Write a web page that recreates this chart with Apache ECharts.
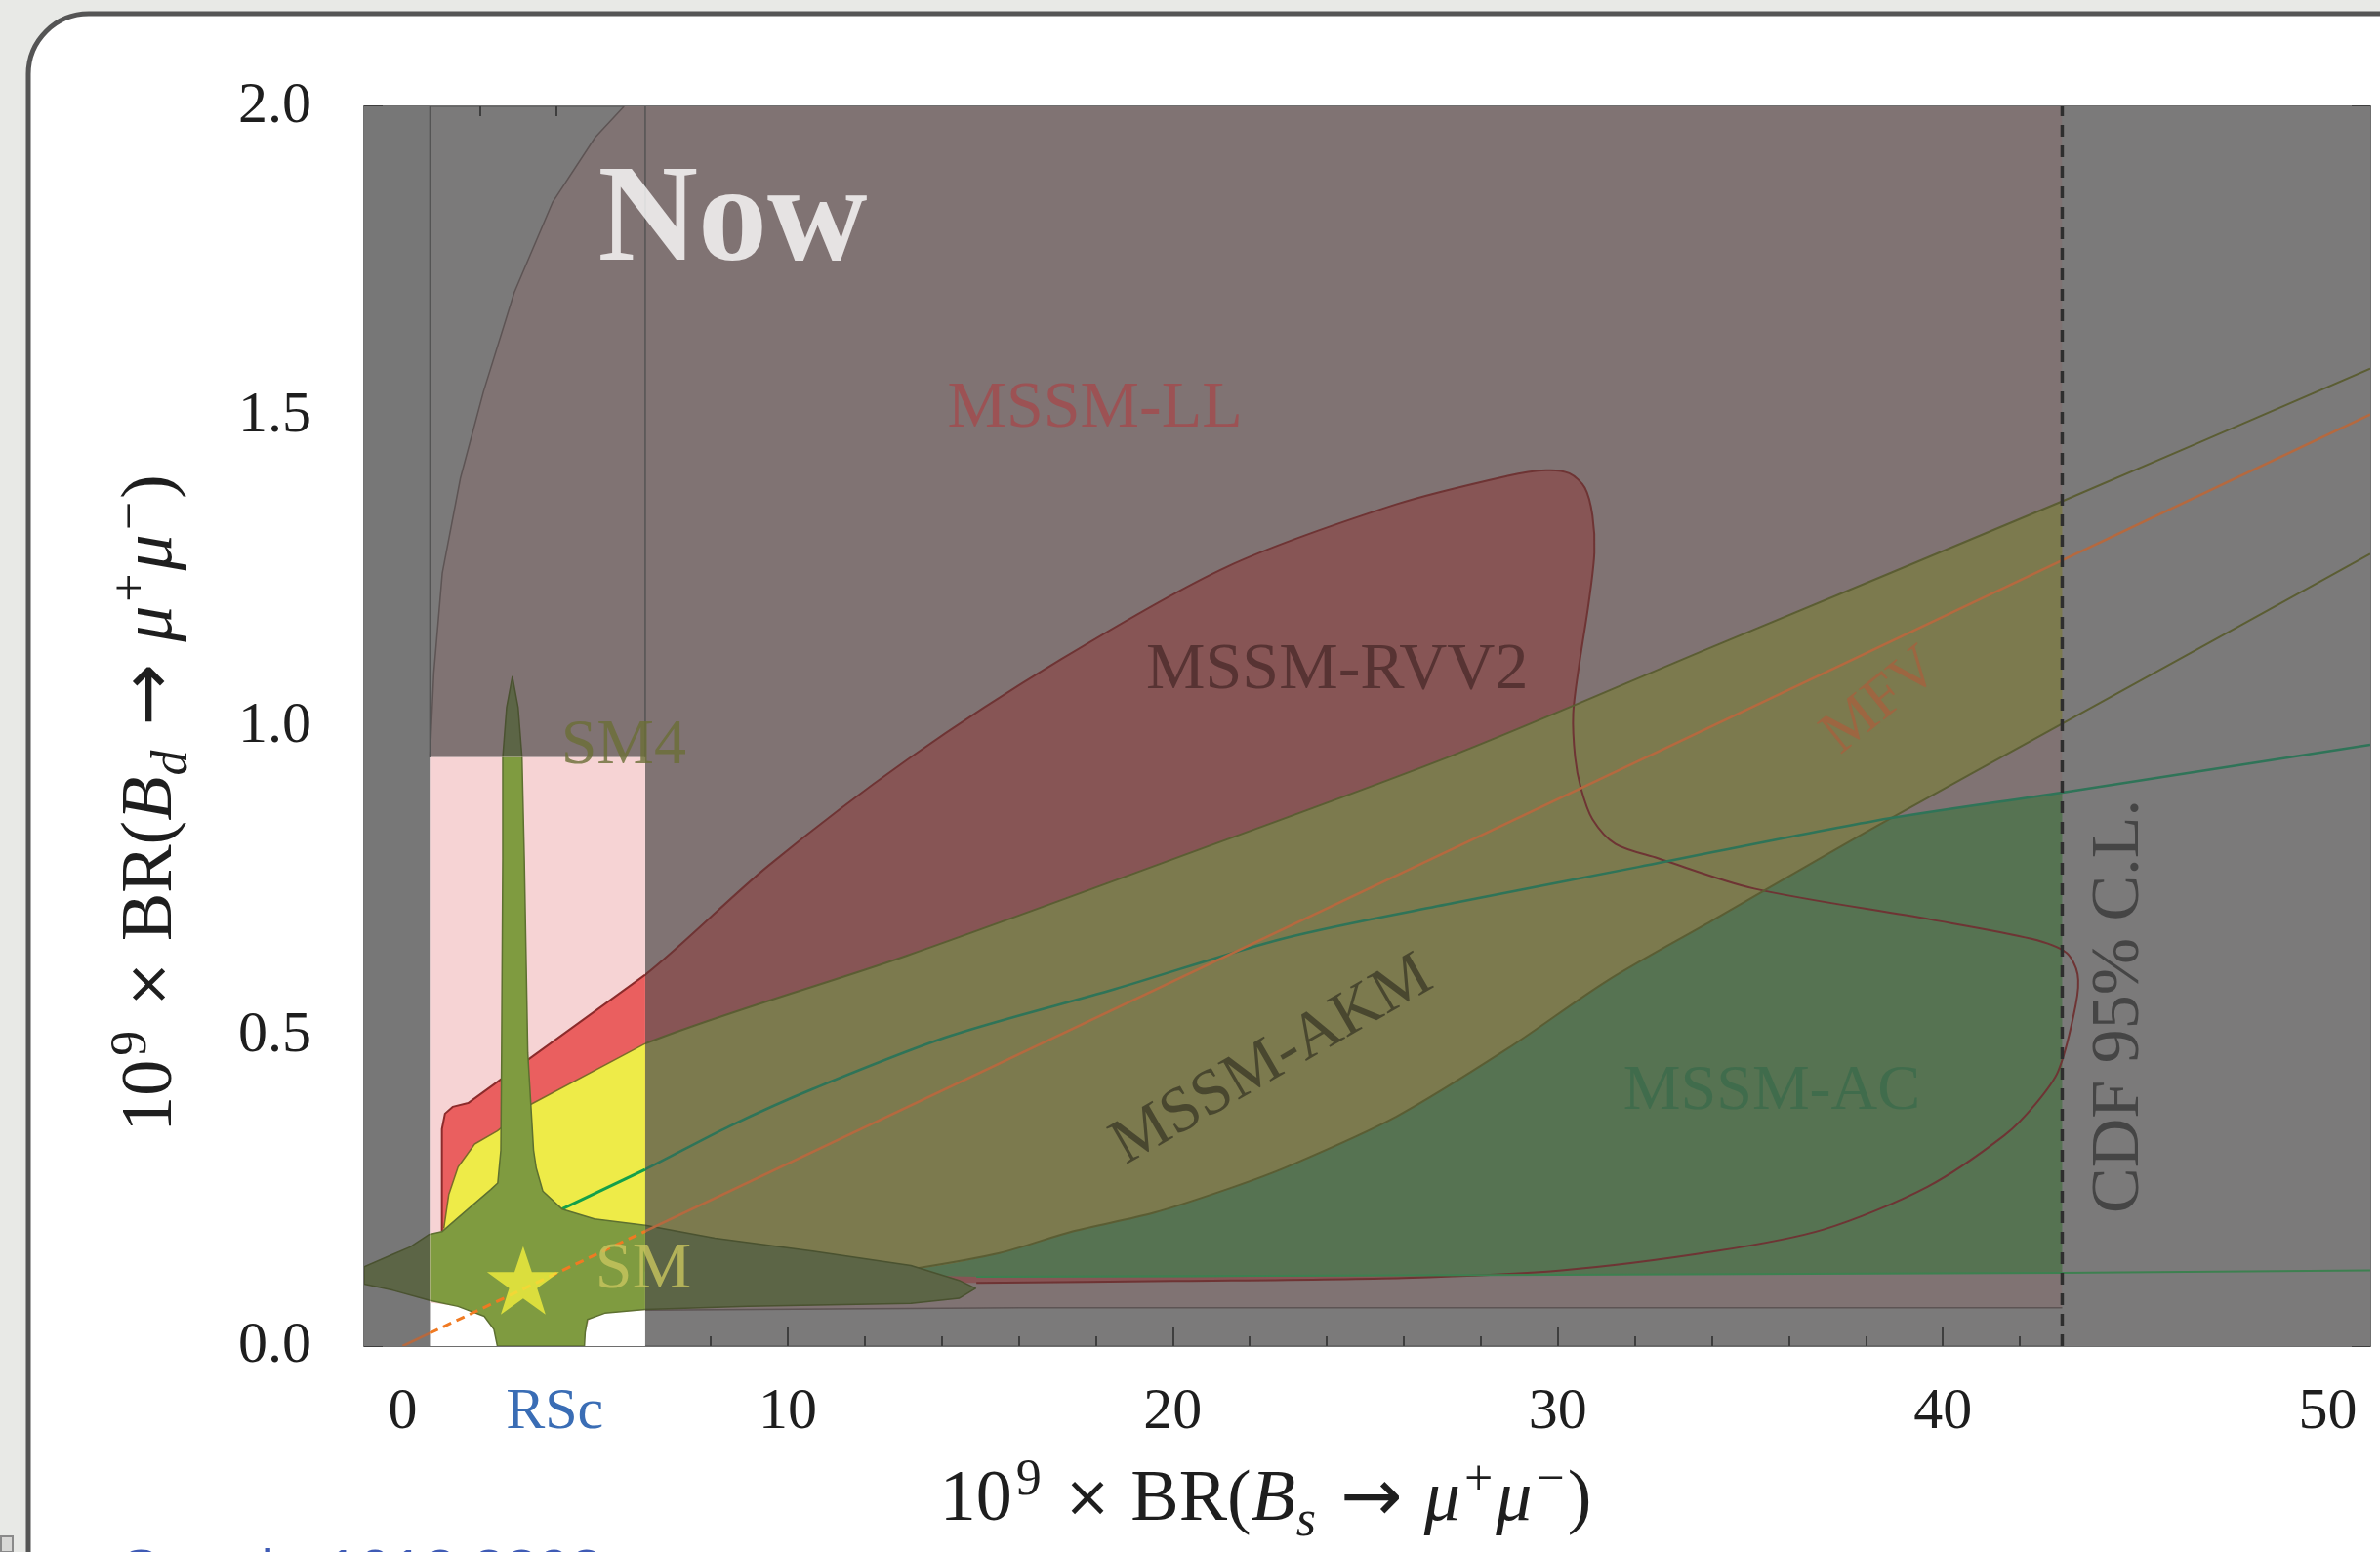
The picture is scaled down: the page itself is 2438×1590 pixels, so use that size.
<!DOCTYPE html>
<html>
<head>
<meta charset="utf-8">
<script src="https://cdn.jsdelivr.net/npm/echarts@6/dist/echarts.min.js"></script>
<style>
  html, body { margin: 0; padding: 0; background: #e8e9e6; }
  #chart { width: 2438px; height: 1590px; }
</style>
</head>
<body>
<div id="chart"></div>
<script>
// ---- axes ----------------------------------------------------------------
const X_RANGE = [-1, 51.1];
const Y_RANGE = [0, 2];
const X_TICKS_MINOR = [0, 2, 4, 6, 8, 10, 12, 14, 16, 18, 20, 22, 24, 26, 28, 30, 32, 34, 36, 38, 40, 42, 44, 46, 48, 50];
const X_TICKS_MAJOR = [0, 10, 20, 30, 40, 50];
const X_TICK_LABELS = [0, 10, 20, 30, 40, 50];
const RSC_POSITION = 3.95;
const Y_TICKS_MINOR = [0, 0.1, 0.2, 0.3, 0.4, 0.5, 0.6, 0.7, 0.8, 0.9, 1.0, 1.1, 1.2, 1.3, 1.4, 1.5, 1.6, 1.7, 1.8, 1.9, 2.0];
const Y_TICKS_MAJOR = [0, 0.5, 1.0, 1.5, 2.0];
const Y_TICK_LABELS = [0, 0.5, 1.0, 1.5, 2.0];

// ---- experimental constraints --------------------------------------------
const CDF_LIMIT = 43.1;                       // CDF 95% C.L. on Bs -> mu mu
const ALLOWED_BOX = { x: [0.71, 6.3], y: [0, 0.95] };
const LEFT_STRIP = [[-1, 0], [0.71, 0], [0.71, 2], [-1, 2]];
const RIGHT_STRIP = [[43.1, 0], [51.1, 0], [51.1, 2], [43.1, 2]];

// ---- model regions (x = 10^9 BR(Bs), y = 10^9 BR(Bd)) --------------------
const LL_EDGE = [[0.71, 0.95], [0.81, 1.086], [1.03, 1.247], [1.5, 1.40], [2.1, 1.54], [2.9, 1.70],
                 [3.9, 1.846], [5.0, 1.95], [5.75, 2.0]];
const LL_FLOOR = [[6.3, 0.058], [16, 0.062], [43.1, 0.062]];
const MSSM_LL = [[0.71, 0.07]].concat(LL_EDGE, [[43.1, 2.0]], LL_FLOOR.slice().reverse(),
  [[5.25, 0.053], [4.85, 0.043], [4.74, 0.022], [4.72, 0], [2.46, 0], [2.37, 0.027], [2.12, 0.048], [1.44, 0.064]]);

const RVV2_EDGE = [[1.02, 0.185], [1.02, 0.35], [1.1, 0.375], [1.3, 0.386], [1.7, 0.392], [6.3, 0.599],
  [9.5, 0.775], [13.15, 0.948], [17.1, 1.108], [21.4, 1.257], [25.8, 1.358], [28.7, 1.404], [29.7, 1.413],
  [30.3, 1.408], [30.7, 1.385], [30.9, 1.34], [30.95, 1.28], [30.8, 1.198], [30.55, 1.097], [30.4, 1.02],
  [30.45, 0.95], [30.6, 0.9], [30.9, 0.85], [31.5, 0.81], [32.6, 0.787], [35.1, 0.738], [39.7, 0.688],
  [42.3, 0.657], [43.2, 0.635], [43.5, 0.6], [43.45, 0.55], [43.0, 0.444], [42.4, 0.39], [41.6, 0.34],
  [39.6, 0.257], [36.9, 0.188], [34.1, 0.153], [30.1, 0.122], [26, 0.11], [20, 0.105], [14.9, 0.102]];
const RVV2_BASE = [[10, 0.105], [6.3, 0.12], [3, 0.15]];
const MSSM_RVV2 = RVV2_EDGE.concat(RVV2_BASE);

const AKM_UPPER = [[1.07, 0.19], [1.2, 0.245], [1.44, 0.289], [1.87, 0.326], [2.46, 0.347], [3.3, 0.389],
  [6.3, 0.488], [13.1, 0.63], [20.2, 0.79], [27.35, 0.955], [33.9, 1.125], [43.1, 1.363], [51.1, 1.577]];
const AKM_LOWER = [[13.3, 0.125], [15.5, 0.15], [17.4, 0.185], [19.5, 0.215], [21.5, 0.255], [23, 0.29],
  [25.8, 0.37], [28.7, 0.48], [31.3, 0.59], [34, 0.686], [38.2, 0.836], [43.1, 1.004], [51.1, 1.278]];
const AKM_BASE = [[10, 0.13], [6.3, 0.15], [3, 0.16], [1.0, 0.17]];
const MSSM_AKM = AKM_UPPER.concat(AKM_LOWER.slice().reverse(), AKM_BASE);

const AC_UPPER = [[4.14, 0.221], [6.3, 0.285], [8.5, 0.355], [10.66, 0.415], [14.2, 0.5], [18.5, 0.576],
  [22.9, 0.658], [27.3, 0.715], [32.1, 0.773], [38.2, 0.847], [43.1, 0.893], [51.1, 0.97]];
const AC_LOWER = [[14.9, 0.112], [30, 0.115], [43.1, 0.118], [51.1, 0.122]];
const AC_BASE = [[10, 0.13], [6.3, 0.16], [4.14, 0.19]];
const MSSM_AC = AC_UPPER.concat(AC_LOWER.slice().reverse(), AC_BASE);

const SM4 = [[-1, 0.1], [-0.25, 0.09], [0.69, 0.074], [1.44, 0.064], [2.12, 0.048], [2.37, 0.027], [2.46, 0],
  [4.72, 0], [4.74, 0.022], [4.8, 0.043], [5.25, 0.053], [6.3, 0.059], [8.96, 0.064], [13.2, 0.069],
  [14.45, 0.077], [14.88, 0.093], [14.45, 0.106], [13.2, 0.130], [10.65, 0.153], [8.11, 0.174], [6.3, 0.195],
  [4.98, 0.205], [4.14, 0.221], [3.64, 0.25], [3.47, 0.287], [3.4, 0.316], [3.25, 0.473], [3.16, 0.787],
  [3.1, 0.95], [3.0, 1.03], [2.85, 1.08], [2.7, 1.03], [2.6, 0.95], [2.6, 0.787], [2.57, 0.473],
  [2.55, 0.316], [2.47, 0.263], [2.29, 0.2526], [1.7, 0.221], [1.02, 0.1845], [0.69, 0.18], [0.2, 0.16],
  [-0.25, 0.148], [-1, 0.128]];

const MFV_LINE = [[0, 0], [51.1, 1.503]];
const SM_POINT = [3.13, 0.106];

// ---- palettes ------------------------------------------------------------
const DIM = { bg: '#7b7a7a', strip: '#777777', ll: '#807373', rvv2: '#875555', ac: '#567352', akm: '#7c7a4e', sm4: '#5c6546' };
const BRIGHT = { bg: '#ffffff', ll: '#f6d3d4', rvv2: '#ea5f5f', ac: '#3f9a55', akm: '#eeeb48', sm4: '#7f9b40' };
const SERIF = '"Liberation Serif", "Times New Roman", serif';
const SMOOTH = 0.3;

// ---- geometry helpers -------------------------------------------------------
function clipPolygon(poly, box) {
  const tests = [
    [p => p[0] >= box.x[0], (a, b) => { const t = (box.x[0] - a[0]) / (b[0] - a[0]); return [box.x[0], a[1] + t * (b[1] - a[1])]; }],
    [p => p[0] <= box.x[1], (a, b) => { const t = (box.x[1] - a[0]) / (b[0] - a[0]); return [box.x[1], a[1] + t * (b[1] - a[1])]; }],
    [p => p[1] >= box.y[0], (a, b) => { const t = (box.y[0] - a[1]) / (b[1] - a[1]); return [a[0] + t * (b[0] - a[0]), box.y[0]]; }],
    [p => p[1] <= box.y[1], (a, b) => { const t = (box.y[1] - a[1]) / (b[1] - a[1]); return [a[0] + t * (b[0] - a[0]), box.y[1]]; }]
  ];
  let out = poly;
  for (const [inside, cross] of tests) {
    const src = out; out = [];
    for (let i = 0; i < src.length; i++) {
      const cur = src[i], prev = src[(i + src.length - 1) % src.length];
      const ci = inside(cur), pi = inside(prev);
      if (ci) { if (!pi) out.push(cross(prev, cur)); out.push(cur); }
      else if (pi) out.push(cross(prev, cur));
    }
    if (!out.length) break;
  }
  return out;
}
function clipSegment(a, b, box) {
  let t0 = 0, t1 = 1;
  const dx = b[0] - a[0], dy = b[1] - a[1];
  const p = [-dx, dx, -dy, dy];
  const q = [a[0] - box.x[0], box.x[1] - a[0], a[1] - box.y[0], box.y[1] - a[1]];
  for (let i = 0; i < 4; i++) {
    if (p[i] === 0) { if (q[i] < 0) return null; }
    else {
      const r = q[i] / p[i];
      if (p[i] < 0) { if (r > t1) return null; if (r > t0) t0 = r; }
      else { if (r < t0) return null; if (r < t1) t1 = r; }
    }
  }
  return [[a[0] + t0 * dx, a[1] + t0 * dy], [a[0] + t1 * dx, a[1] + t1 * dy]];
}
function clipPolyline(pts, box) {
  const pieces = []; let cur = null;
  for (let i = 0; i < pts.length - 1; i++) {
    const seg = clipSegment(pts[i], pts[i + 1], box);
    if (!seg) { cur = null; continue; }
    if (cur && Math.abs(cur[cur.length - 1][0] - seg[0][0]) < 1e-9 && Math.abs(cur[cur.length - 1][1] - seg[0][1]) < 1e-9) cur.push(seg[1]);
    else { cur = [seg[0], seg[1]]; pieces.push(cur); }
  }
  return pieces;
}
const closed = pts => pts.concat([pts[0]]);

// ---- series builders -------------------------------------------------------
function area(points, color, smooth) {
  return {
    type: 'custom', coordinateSystem: 'cartesian2d', clip: true, silent: true,
    data: [[X_RANGE[0], Y_RANGE[0]]],
    renderItem: (params, api) => points.length < 3 ? null : ({
      type: 'polygon', shape: { points: points.map(p => api.coord(p)), smooth: smooth || 0 }, style: { fill: color }
    })
  };
}
function lines(pieces, color, width, dash, smooth) {
  return {
    type: 'custom', coordinateSystem: 'cartesian2d', clip: true, silent: true,
    data: [[X_RANGE[0], Y_RANGE[0]]],
    renderItem: (params, api) => ({
      type: 'group',
      children: pieces.map(pc => ({
        type: 'polyline', shape: { points: pc.map(p => api.coord(p)), smooth: smooth || 0 },
        style: { stroke: color, lineWidth: width, fill: null, lineDash: dash || null, lineJoin: 'round', lineCap: 'butt' }
      }))
    })
  };
}
function label(x, y, text, opts) {
  return {
    type: 'scatter', data: [[x, y]], symbolSize: 1, silent: true, z: 20,
    itemStyle: { color: 'rgba(0,0,0,0)' },
    label: Object.assign({ show: true, position: 'inside', formatter: text, fontFamily: SERIF }, opts)
  };
}
const boxCorners = [[ALLOWED_BOX.x[0], ALLOWED_BOX.y[0]], [ALLOWED_BOX.x[1], ALLOWED_BOX.y[0]],
                    [ALLOWED_BOX.x[1], ALLOWED_BOX.y[1]], [ALLOWED_BOX.x[0], ALLOWED_BOX.y[1]]];

const series = [
  // excluded parameter space, greyed out
  area(LEFT_STRIP, DIM.strip),
  area(MSSM_LL, DIM.ll),
  area(MSSM_RVV2, DIM.rvv2, SMOOTH),
  area(MSSM_AC, DIM.ac, SMOOTH),
  area(MSSM_AKM, DIM.akm, SMOOTH),
  area(RIGHT_STRIP, DIM.bg),
  lines([LL_EDGE, LL_FLOOR], '#5d5454', 1.5),
  lines([RVV2_EDGE], '#6e3434', 2, null, SMOOTH),
  lines([AKM_UPPER, AKM_LOWER], '#5b5d33', 2, null, SMOOTH),
  lines([AC_UPPER], '#2f7458', 2.5, null, SMOOTH),
  lines([AC_LOWER], '#3d8050', 2),
  area(SM4, DIM.sm4),
  lines([closed(SM4)], '#4a5230', 1.5),
  lines([MFV_LINE], '#b5693f', 2.5),

  // region still allowed
  area(boxCorners, BRIGHT.bg),
  area(clipPolygon(MSSM_LL, ALLOWED_BOX), BRIGHT.ll),
  area(clipPolygon(MSSM_RVV2, ALLOWED_BOX), BRIGHT.rvv2),
  area(clipPolygon(MSSM_AC, ALLOWED_BOX), BRIGHT.ac),
  area(clipPolygon(MSSM_AKM, ALLOWED_BOX), BRIGHT.akm),
  lines(clipPolyline(RVV2_EDGE, ALLOWED_BOX), '#8c2b2b', 2),
  lines(clipPolyline(AKM_UPPER, ALLOWED_BOX), '#7d6a2a', 1.5),
  lines(clipPolyline(AC_UPPER, ALLOWED_BOX), '#14a04a', 3),
  area(clipPolygon(SM4, ALLOWED_BOX), BRIGHT.sm4),
  lines(clipPolyline(closed(SM4), ALLOWED_BOX), '#5d7030', 1.5),
  lines(clipPolyline(MFV_LINE, ALLOWED_BOX), '#f07a22', 3, [9, 6]),

  // box edges above the allowed region and the CDF bound
  lines([[[ALLOWED_BOX.x[0], ALLOWED_BOX.y[1]], [ALLOWED_BOX.x[0], Y_RANGE[1]]],
         [[ALLOWED_BOX.x[1], ALLOWED_BOX.y[1]], [ALLOWED_BOX.x[1], Y_RANGE[1]]]], '#545454', 1.5),
  lines([[[CDF_LIMIT, Y_RANGE[0]], [CDF_LIMIT, Y_RANGE[1]]]], '#2e2e2e', 3.5, [12, 9]),

  // SM prediction
  {
    type: 'scatter', data: [SM_POINT], silent: true, z: 15,
    symbol: 'path://M50,0 L61.8,35.3 L98.9,35.3 L68.9,57.1 L80.3,92.7 L50,70.9 L19.7,92.7 L31.1,57.1 L1.1,35.3 L38.2,35.3 Z',
    symbolSize: [74, 70], itemStyle: { color: '#f3ef3c' }
  },

  // annotations
  label(5.07, 1.81, 'Now', { color: '#ffffff', fontSize: 142, fontWeight: 'bold', align: 'left' }),
  label(17.98, 1.511, 'MSSM-LL', { color: '#a24a4c', fontSize: 68 }),
  label(24.27, 1.09, 'MSSM-RVV2', { color: '#4b2a2a', fontSize: 68 }),
  label(5.74, 0.968, 'SM4', { color: '#6a6e36', fontSize: 66 }),
  label(6.25, 0.122, 'SM', { color: '#c9c55e', fontSize: 68 }),
  label(38.4, 1.04, 'MFV', { color: '#a5623e', fontSize: 62, rotate: 39 }),
  label(22.58, 0.46, 'MSSM-AKM', { color: '#3c3b28', fontSize: 66, rotate: 30 }),
  label(35.56, 0.41, 'MSSM-AC', { color: '#3b6a4b', fontSize: 66 }),
  label(44.6, 0.548, 'CDF 95% C.L.', { color: '#383838', fontSize: 70, rotate: 90 })
];

const INK = '#1e1e1e';
const mathRich = {
  n: { fontFamily: SERIF, fontSize: 74, lineHeight: 94, color: INK },
  it: { fontFamily: SERIF, fontSize: 74, lineHeight: 94, fontStyle: 'italic', color: INK },
  sup: { fontFamily: SERIF, fontSize: 52, lineHeight: 52, verticalAlign: 'top', color: INK, padding: [0, 3, 0, 4] },
  subi: { fontFamily: SERIF, fontSize: 52, lineHeight: 48, verticalAlign: 'bottom', fontStyle: 'italic', color: INK, padding: [0, 3, 0, 1] },
  op: { fontFamily: '"DejaVu Sans", sans-serif', fontSize: 58, lineHeight: 94, color: INK, padding: [0, 20, 0, 20] },
  ar: { fontFamily: '"DejaVu Sans", sans-serif', fontSize: 76, lineHeight: 94, color: INK, padding: [0, 22, 0, 22] }
};
const X_TITLE = '{n|10}{sup|9}{op|×}{n|BR(}{it|B}{subi|s}{ar|→}{it|μ}{sup|+}{it|μ}{sup|−}{n|)}';
const Y_TITLE = '{n|10}{sup|9}{op|×}{n|BR(}{it|B}{subi|d}{ar|→}{it|μ}{sup|+}{it|μ}{sup|−}{n|)}';

function xAxis(position, ticks, len, withLabels) {
  return {
    type: 'value', position, min: X_RANGE[0], max: X_RANGE[1],
    axisLine: { show: true, onZero: false, lineStyle: { color: '#666666', width: 1.5 } },
    axisTick: { show: true, inside: true, length: len, customValues: ticks, lineStyle: { color: '#3e3e3e', width: 2 } },
    axisLabel: withLabels ? {
      show: true, customValues: X_TICK_LABELS.concat([RSC_POSITION]).sort((a, b) => a - b), margin: 38,
      fontFamily: SERIF, fontSize: 60, lineHeight: 60, color: INK,
      formatter: v => Math.abs(v - RSC_POSITION) < 1e-6 ? '{rsc|RSc}' : String(v),
      rich: { rsc: { fontFamily: SERIF, fontSize: 60, lineHeight: 60, color: '#3a6db5' } }
    } : { show: false },
    splitLine: { show: false },
    name: withLabels ? X_TITLE : '', nameLocation: 'middle', nameGap: 112,
    nameTextStyle: { rich: mathRich, padding: [0, 208, 0, 0] }
  };
}
function yAxis(position, ticks, len, withLabels) {
  return {
    type: 'value', position, min: Y_RANGE[0], max: Y_RANGE[1],
    axisLine: { show: true, onZero: false, lineStyle: { color: '#666666', width: 1.5 } },
    axisTick: { show: true, inside: true, length: len, customValues: ticks, lineStyle: { color: '#3e3e3e', width: 2 } },
    axisLabel: withLabels ? {
      show: true, customValues: Y_TICK_LABELS, margin: 54,
      fontFamily: SERIF, fontSize: 60, color: INK, formatter: v => v.toFixed(1)
    } : { show: false },
    splitLine: { show: false },
    name: withLabels ? Y_TITLE : '', nameLocation: 'middle', nameGap: 170, nameRotate: 90,
    nameTextStyle: { rich: mathRich, padding: [0, 158, 0, 0] }
  };
}

const chart = echarts.init(document.getElementById('chart'), null, { renderer: 'canvas' });
chart.setOption({
  animation: false,
  backgroundColor: '#e8e9e6',
  grid: { left: 373, top: 109, right: 10, bottom: 209.4, show: true, backgroundColor: DIM.bg, borderWidth: 0 },
  xAxis: [
    xAxis('bottom', X_TICKS_MINOR, 10, true),
    xAxis('top', X_TICKS_MINOR, 10, false),
    xAxis('bottom', X_TICKS_MAJOR, 19, false),
    xAxis('top', X_TICKS_MAJOR, 19, false)
  ],
  yAxis: [
    yAxis('left', Y_TICKS_MINOR, 10, true),
    yAxis('right', Y_TICKS_MINOR, 10, false),
    yAxis('left', Y_TICKS_MAJOR, 19, false),
    yAxis('right', Y_TICKS_MAJOR, 19, false)
  ],
  graphic: [
    { type: 'rect', z: -100, shape: { x: 29, y: 14, width: 2600, height: 1800, r: 62 },
      style: { fill: '#ffffff', stroke: '#555555', lineWidth: 5 } },
    { type: 'rect', z: -99, shape: { x: 1, y: 1574, width: 12, height: 16 },
      style: { fill: '#d8d8d6', stroke: '#8a8a8a', lineWidth: 2 } },
    { type: 'text', z: 100, x: 124, y: 1582,
      style: { text: 'Straub, 1012.3893', fill: '#3f5bb5', font: '60px "Liberation Sans", sans-serif', textVerticalAlign: 'top' } }
  ],
  series
});
</script>
</body>
</html>
